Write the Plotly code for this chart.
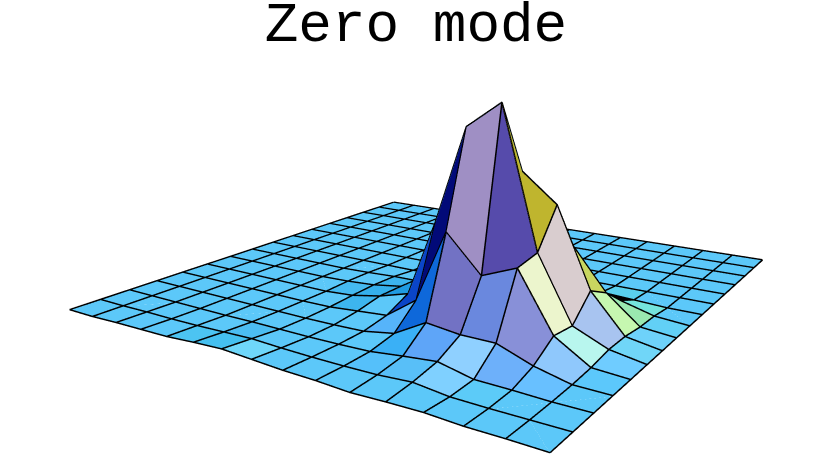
import numpy as np
import plotly.graph_objects as go

# height of the surface, one row per u (left corner -> front corner), one column per v
Z_ROWS = [
    [0, 0, 0, 0, 0, 0, 0, 0, 0, 0, 0, 0, 0, 0, 0, 0],
    [0, 0, 0, 0, 0, 0, 0, 0, 0, 0, 0, 0, 0, 0, 0, 0],
    [.002, .001, 0, 0, 0, 0, 0, 0, 0, 0, 0, 0, 0, 0, 0, 0],
    [.003, .001, 0, 0, 0, 0, 0, 0, 0, 0, 0, 0, 0, 0, 0, 0],
    [.004, .002, 0, 0, 0, 0, 0, 0, 0, 0, 0, 0, 0, 0, 0, 0],
    [.008, .004, .001, 0, 0, 0, .002, .002, 0, 0, 0, 0, 0, 0, 0, 0],
    [.011, .006, .001, 0, .001, .004, .006, .005, 0, 0, 0, 0, 0, 0, 0, 0],
    [.008, .004, .001, .001, .006, .015, .015, .006, .001, 0, 0, 0, 0, 0, 0, 0],
    [.005, .003, .002, .003, .011, .032, .05, .015, .002, 0, 0, 0, 0, 0, 0, 0],
    [.004, .003, .004, .013, .052, .175, .15, .06, .01, .001, 0, 0, 0, 0, 0, 0],
    [.001, .004, .011, .046, .182, .339, .22, .1, .02, .002, 0, 0, 0, 0, 0, 0],
    [.003, .008, .017, .039, .119, .381, .264, .15, .03, .005, 0, 0, 0, 0, 0, 0],
    [.004, .001, .003, .039, .143, .151, .216, .13, .03, .006, 0, 0, 0, 0, 0, 0],
    [.001, 0, .002, .016, .043, .038, .079, .056, .022, .003, 0, 0, 0, 0, 0, 0],
    [.001, 0, 0, .001, .004, .011, .011, .006, .005, 0, 0, 0, 0, 0, 0, 0],
    [0, 0, 0, 0, 0, 0, 0, 0, 0, 0, 0, 0, 0, 0, 0, 0],
]
BASE_COLOR = "#5cc8f9"
# colours of the cells that differ from the base, (u, v) -> colour
FACE_COLORS = {
    (10, 4): "#9f8fc4", (11, 4): "#564bab", (11, 5): "#bfb52e", (12, 4): "#ecf5cd",
    (12, 5): "#d9cdcf", (12, 6): "#c8d660", (10, 3): "#7272c4", (11, 3): "#6a88de",
    (12, 3): "#8890d8", (9, 3): "#0e68da", (9, 4): "#020a78", (8, 4): "#0a45c8",
    (8, 3): "#56b4fa", (9, 2): "#3ab0f6", (10, 2): "#5ea5f8", (11, 2): "#8fd0ff",
    (12, 2): "#6db0fa", (13, 3): "#8fc8fc", (13, 4): "#b8f6ee", (13, 5): "#a8c4f0",
    (13, 6): "#c6f7b0", (13, 7): "#9ae8b0", (13, 8): "#75e4dc", (12, 7): "#000000",
    (12, 8): "#000000", (14, 3): "#5cc8fb", (14, 4): "#6fccff", (14, 5): "#70d6f8",
    (14, 6): "#6ed2fa", (14, 7): "#62d0f6", (13, 2): "#68c0ff", (10, 1): "#58bff8",
    (11, 1): "#7fd0ff", (12, 1): "#5ccbf8", (9, 1): "#55c0fa", (6, 0): "#6fd7fa",
    (5, 0): "#45c0f0", (4, 0): "#4cc4f2", (5, 1): "#4cbdf2", (5, 5): "#45baf0",
    (6, 4): "#3db5ee", (6, 5): "#35b0ec", (7, 5): "#1f9be2", (6, 6): "#3cb4ee",
    (7, 6): "#2aa8e8", (12, 9): "#5ad0ee",
}
TITLE = "Zero mode"

z = np.array(Z_ROWS, dtype=float)
n = z.shape[0]
uu, vv = np.meshgrid(np.arange(n), np.arange(n), indexing="ij")

# two triangles per cell, same colour on both; cut along the flatter diagonal
i, j, k, colors = [], [], [], []
zr = z.ravel()
for u in range(n - 1):
    for v in range(n - 1):
        a, b, c, d = u * n + v, (u + 1) * n + v, (u + 1) * n + v + 1, u * n + v + 1
        col = FACE_COLORS.get((u, v), BASE_COLOR)
        if abs(zr[b] - zr[d]) < abs(zr[a] - zr[c]):
            i += [a, b]
            j += [b, c]
            k += [d, d]
        else:
            i += [a, a]
            j += [b, c]
            k += [c, d]
        colors += [col, col]

fig = go.Figure()
fig.add_trace(go.Mesh3d(
    x=uu.ravel(), y=vv.ravel(), z=zr,
    i=i, j=j, k=k, facecolor=colors, flatshading=True,
    lighting=dict(ambient=1, diffuse=0, specular=0, fresnel=0),
    hoverinfo="skip", showscale=False,
))

# mesh lines along both directions, lifted a hair so the faces do not swallow them
lift = .0012
lx, ly, lz = [], [], []
for m in range(n):
    lx += uu[m, :].tolist() + [None]
    ly += vv[m, :].tolist() + [None]
    lz += (z[m, :] + lift).tolist() + [None]
    lx += uu[:, m].tolist() + [None]
    ly += vv[:, m].tolist() + [None]
    lz += (z[:, m] + lift).tolist() + [None]
fig.add_trace(go.Scatter3d(
    x=lx, y=ly, z=lz, mode="lines",
    line=dict(color="black", width=3),
    hoverinfo="skip", showlegend=False,
))

hidden = dict(visible=False, showgrid=False, zeroline=False, showticklabels=False,
              showbackground=False, showspikes=False, title="")
fig.update_layout(
    width=1011, height=713, autosize=False,
    margin=dict(l=0, r=0, t=0, b=0, pad=0),
    paper_bgcolor="white",
    showlegend=False,
    title=dict(text=TITLE, x=416 / 1011, xanchor="center", y=1 - 21 / 713, yanchor="middle",
               font=dict(family="Liberation Mono", size=56, color="black")),
    scene=dict(
        domain=dict(x=[0, 1], y=[0, 1]),
        xaxis=dict(range=[0, 15], **hidden),
        yaxis=dict(range=[0, 15], **hidden),
        zaxis=dict(range=[0, .6], **hidden),
        aspectmode="manual",
        aspectratio=dict(x=1, y=.9592, z=.6),
        camera=dict(
            eye=dict(x=.9475, y=-1.3298, z=.2592),
            center=dict(x=.2204, y=-.1279, z=-.3608),
            up=dict(x=-.0074, y=-.0027, z=1),
            projection=dict(type="perspective"),
        ),
    ),
)

fig.write_html("out.html", config=dict(displayModeBar=False),
               post_script="document.body.style.margin='0';document.documentElement.style.overflow='hidden';")
